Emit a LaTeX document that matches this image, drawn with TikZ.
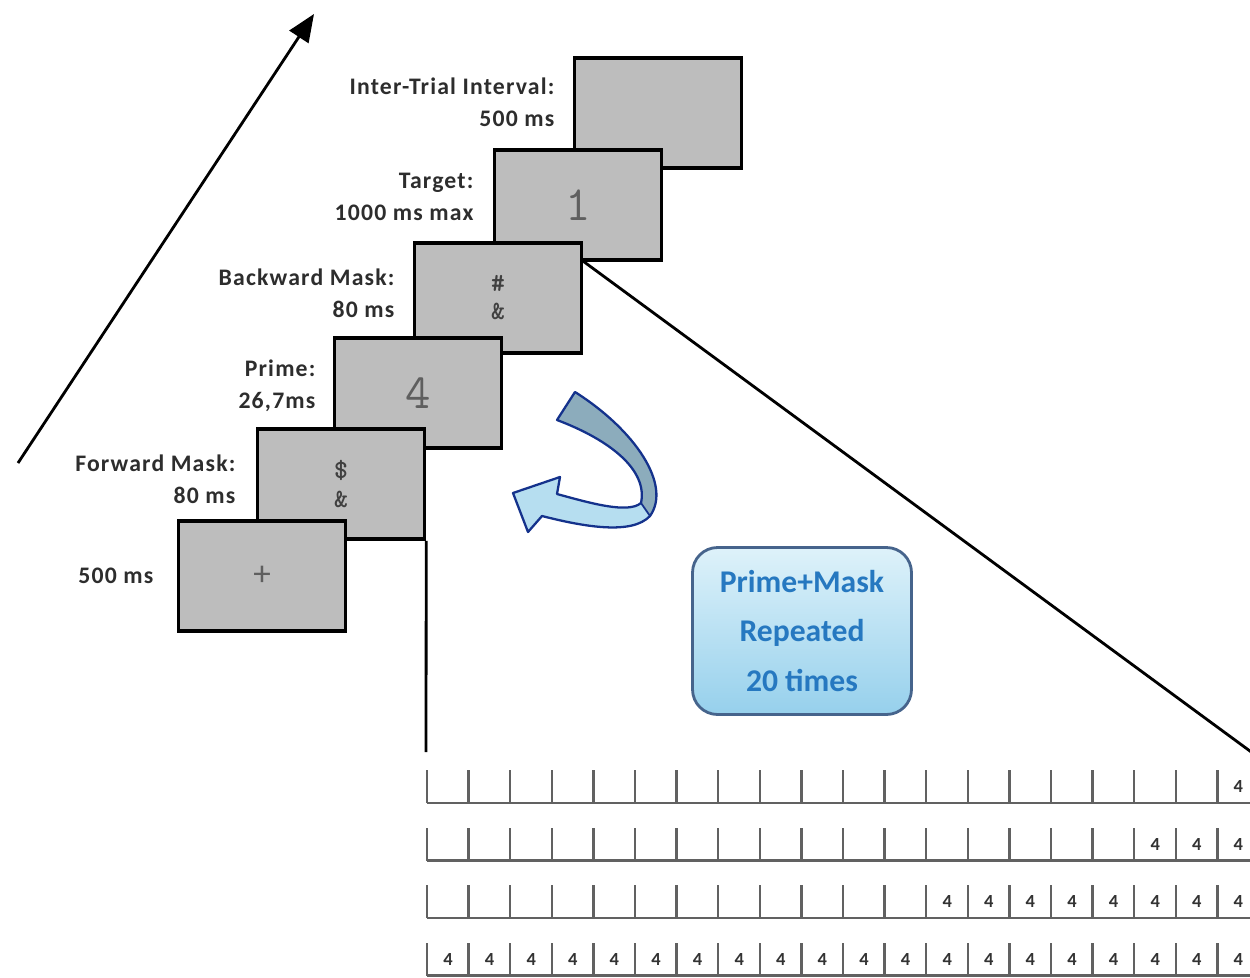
\documentclass[tikz,border=0pt]{standalone}
\usepackage{fontspec}
\setmainfont{Carlito}
\newfontfamily\labelfont[LetterSpace=5]{Carlito}
\usetikzlibrary{arrows.meta, positioning, calc}
\definecolor{screengray}{RGB}{189,189,189}
\definecolor{labeltext}{RGB}{45,45,45}
\definecolor{digitgray}{RGB}{95,95,95}
\definecolor{repTop}{RGB}{222,242,250}
\definecolor{repBot}{RGB}{150,208,236}
\definecolor{repEdge}{RGB}{70,100,140}
\definecolor{repText}{RGB}{38,120,192}
\definecolor{arrowLight}{RGB}{182,222,240}
\definecolor{arrowDark}{RGB}{140,172,188}
\definecolor{arrowEdge}{RGB}{20,50,140}

\begin{document}
\begin{tikzpicture}[x=0.02cm, y=-0.02cm,
  screen/.style={draw=black, line width=2pt, fill=screengray, minimum width=3.34cm, minimum height=2.2cm, inner sep=0pt},
  steplabel/.style={align=right, font=\labelfont\bfseries\fontsize{13.5}{18}\selectfont, text=labeltext, inner sep=0pt},
  digit/.style={font=\ttfamily\fontsize{28}{28}\selectfont, text=digitgray},
  masksym/.style={font=\ttfamily\bfseries\fontsize{15}{16}\selectfont, text=black!75, align=center, inner sep=0pt},
  rowline/.style={black!62, line width=1.4pt},
  cellnum/.style={font=\bfseries\fontsize{10.5}{10.5}\selectfont, text=black!80, inner sep=0pt}]
  \useasboundingbox (0,0) rectangle (1250,977);
  \clip (0,0) rectangle (1250,977);

  % time axis
  \coordinate (tstart) at (18,463);
  \coordinate (tend) at (314,14);
  \draw[-{Triangle[length=0.55cm,width=0.45cm]}, line width=1.6pt] (tstart) -- (tend);

  % screens, back to front
  \node[screen] (iti) at (658,113) {};
  \node[screen] (target) at (578,205) {};
  \node[screen] (bmask) at (498,298) {};
  \node[screen] (prime) at (418,393) {};
  \node[screen] (fmask) at (341,484) {};
  \node[screen] (fix) at (262,576) {};

  \node[digit] (targetnum) at (target) {1};
  \node[masksym] (bmasksym) at (bmask) {\#\\\&};
  \node[digit] (primenum) at (prime) {4};
  \node[masksym] (fmasksym) at (fmask) {\$\\\&};
  \node[font=\fontsize{20}{20}\selectfont, text=digitgray] (fixcross) at (fix) {+};

  % labels
  \node[steplabel, left=0.36cm of iti, yshift=0.22cm] (itilabel) {Inter-Trial Interval:\\500 ms};
  \node[steplabel, left=0.38cm of target, yshift=0.16cm] (targetlabel) {Target:\\1000 ms max};
  \node[steplabel, left=0.36cm of bmask, yshift=0.1cm] (bmasklabel) {Backward Mask:\\80 ms};
  \node[steplabel, left=0.34cm of prime, yshift=0.14cm] (primelabel) {Prime:\\26,7ms};
  \node[steplabel, left=0.4cm of fmask, yshift=0.1cm] (fmasklabel) {Forward Mask:\\80 ms};
  \node[steplabel, left=0.46cm of fix] (fixlabel) {500 ms};

  % zoom lines
  \coordinate (zoomleft) at (426,752);
  \coordinate (zoomright) at (1254,754);
  \draw[line width=1.6pt] (fmask.south east) -- (zoomleft);
  \draw[line width=1.6pt] ([yshift=-0.4cm]bmask.north east) -- (zoomright);

  % repeat arrow
  \fill[arrowLight] (575,392) .. controls (635,430) and (672,485) .. (650,516)
    .. controls (632,535) and (585,527) .. (542,516) -- (528,532) -- (513,493)
    -- (560,477) -- (557,494) .. controls (590,503) and (628,514) .. (641,503)
    .. controls (648,470) and (610,440) .. (557,420) -- cycle;
  \fill[arrowDark] (575,392) .. controls (635,430) and (672,485) .. (650,516)
    -- (641,503) .. controls (648,470) and (610,440) .. (557,420) -- cycle;
  \draw[arrowEdge, line width=1.3pt, line join=round] (575,392) .. controls (635,430) and (672,485) .. (650,516)
    .. controls (632,535) and (585,527) .. (542,516) -- (528,532) -- (513,493)
    -- (560,477) -- (557,494) .. controls (590,503) and (628,514) .. (641,503)
    .. controls (648,470) and (610,440) .. (557,420) -- cycle;
  \draw[arrowEdge, line width=1pt] (641,503) -- (650,516);

  \node[draw=repEdge, line width=1.6pt, rounded corners=0.5cm, top color=repTop, bottom color=repBot,
    minimum width=4.38cm, minimum height=3.34cm, align=center, text=repText,
    font=\bfseries\fontsize{18}{28}\selectfont] (repbox) at (802,631) {Prime+Mask\\Repeated\\20 times};

  % prime/mask sequences
  \foreach \r/\n in {0/1,1/3,2/8,3/20} {
    \pgfmathsetmacro\yb{803+57.5*\r}
    \pgfmathtruncatemacro\first{20-\n}
    \draw[rowline] (427,\yb) -- (1260,\yb);
    \foreach \i in {0,...,19}
      \draw[rowline] (427+41.6*\i,\yb) -- ++(0,-33);
    \foreach \i in {\first,...,19}
      \node[cellnum] (c\r-\i) at (448+41.6*\i,\yb-16) {4};
  }
\end{tikzpicture}
\end{document}
